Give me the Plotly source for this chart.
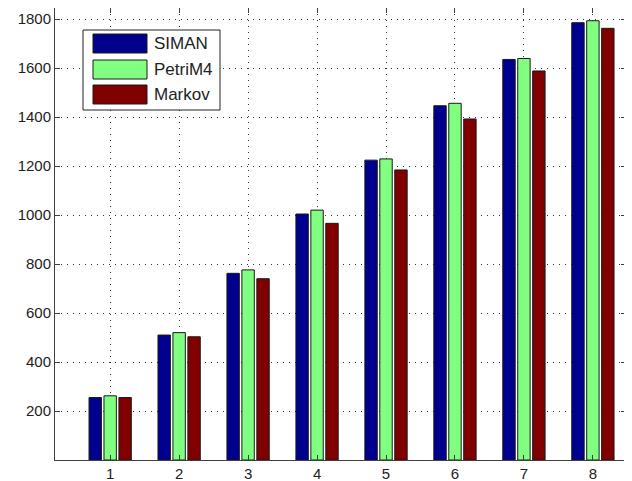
import plotly.graph_objects as go

categories = [1, 2, 3, 4, 5, 6, 7, 8]
siman = [255, 510, 762, 1004, 1224, 1446, 1635, 1785]
petrim4 = [262, 520, 776, 1020, 1229, 1456, 1639, 1793]
markov = [255, 503, 740, 966, 1184, 1392, 1588, 1762]
series_names = ["SIMAN", "PetriM4", "Markov"]
series_colors = ["rgb(0,0,143)", "rgb(128,255,128)", "rgb(128,0,0)"]
y_ticks = [200, 400, 600, 800, 1000, 1200, 1400, 1600, 1800]

# page body has an 8px margin, so the figure is drawn at (8, 8) in the window
OFF = 8
W, H = 632 - OFF, 481 - OFF
L, R, T, B = 55 - OFF, 626 - OFF, 0, 460 - OFF


def px(x):
    return (x - OFF - L) / (R - L)


def py(y):
    return (B - (y - OFF)) / (B - T)


fig = go.Figure()
for name, vals, col in zip(series_names, [siman, petrim4, markov], series_colors):
    fig.add_trace(go.Bar(
        x=categories, y=vals, name=name,
        marker=dict(color=col, line=dict(color="#1a1a1a", width=1)),
        showlegend=False,
    ))

axis_common = dict(
    showgrid=True, gridcolor="#333", griddash="1px,5px", gridwidth=1,
    showline=True, linecolor="#404040", linewidth=1, mirror="allticks",
    ticks="inside", ticklen=5, tickcolor="#404040", zeroline=False,
    automargin=False,
    tickfont=dict(family="Liberation Sans, Arial, sans-serif", size=15, color="#222"),
)

fig.update_layout(
    width=W, height=H,
    margin=dict(l=L, r=W - R, t=T, b=H - B),
    paper_bgcolor="white", plot_bgcolor="white",
    barmode="group", bargap=0.35, bargroupgap=0.17,
    xaxis=dict(range=[0.2, 8.48], tickvals=categories, **axis_common),
    yaxis=dict(range=[0, 1845], tickvals=y_ticks, **axis_common),
)

# legend box (drawn manually to match wide swatches)
shapes = [dict(type="rect", xref="paper", yref="paper",
               x0=px(83), x1=px(220), y0=py(110), y1=py(30),
               line=dict(color="#222", width=1), fillcolor="white", layer="above")]
rows = [(34, 53), (60, 79), (85, 104)]
annotations = []
for (y0, y1), name, col in zip(rows, series_names, series_colors):
    shapes.append(dict(type="rect", xref="paper", yref="paper",
                       x0=px(93), x1=px(147), y0=py(y1), y1=py(y0),
                       line=dict(color="#1a1a1a", width=1), fillcolor=col, layer="above"))
    annotations.append(dict(xref="paper", yref="paper", x=px(152), y=py((y0 + y1) / 2),
                            text=name, showarrow=False, xanchor="left", yanchor="middle",
                            font=dict(family="Liberation Sans, Arial, sans-serif", size=17, color="#222")))
fig.update_layout(shapes=shapes, annotations=annotations)

fig.write_html("out.html")
